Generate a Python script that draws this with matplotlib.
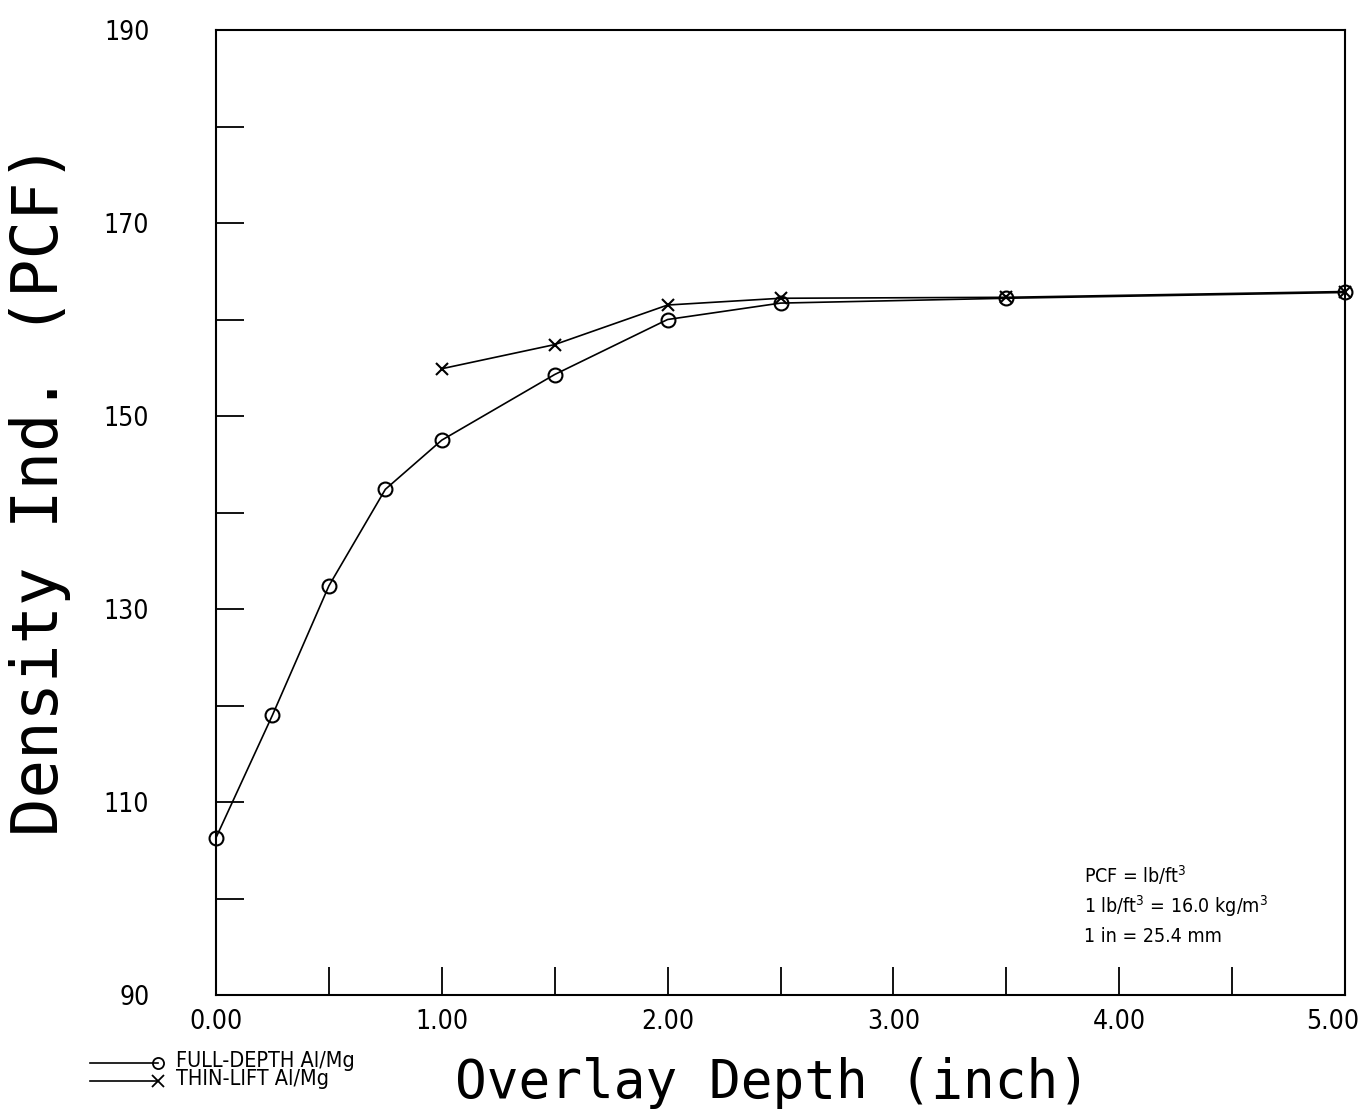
"""
Density indicator vs overlay depth, full-depth and thin-lift Al/Mg
"""
import matplotlib
matplotlib.use("Agg")
import matplotlib.pyplot as plt
import matplotlib.transforms as mtransforms
from matplotlib.lines import Line2D

# data
full_depth_x = [0.0, 0.25, 0.5, 0.75, 1.0, 1.5, 2.0, 2.5, 3.5, 5.0]
full_depth_y = [106.3, 119.0, 132.4, 142.4, 147.5, 154.3, 160.0, 161.7, 162.2, 162.8]
thin_lift_x = [1.0, 1.5, 2.0, 2.5, 3.5, 5.0]
thin_lift_y = [154.9, 157.4, 161.5, 162.2, 162.3, 162.9]

x_ticks = [0, 1, 2, 3, 4, 5]
y_ticks = [90, 110, 130, 150, 170, 190]

plt.rcParams['font.family'] = ['DejaVu Sans']
plt.rcParams['font.stretch'] = 'condensed'

fig = plt.figure(figsize=(13.65, 11.18), dpi=100)
ax = fig.add_axes([216 / 1365, 1 - 995 / 1118, (1345 - 216) / 1365, (995 - 30) / 1118])

ax.plot(full_depth_x, full_depth_y, color="black", lw=1.2,
        marker="o", ms=10, mfc="none", mew=1.5, clip_on=False)
ax.plot(thin_lift_x, thin_lift_y, color="black", lw=1.2,
        marker="x", ms=9, mew=1.5, clip_on=False)

ax.set_xlim(0, 5)
ax.set_ylim(90, 190)
ax.set_xticks([i * 0.5 for i in range(11)], minor=True)
ax.set_xticks(x_ticks)
ax.set_xticklabels([f"{v:.2f}" for v in x_ticks])
ax.set_yticks(range(90, 191, 10), minor=True)
ax.set_yticks(y_ticks)
ax.set_yticklabels([str(v) for v in y_ticks])

ax.tick_params(which="both", direction="in", length=20, width=1.3,
               top=False, right=False)
ax.tick_params(axis="x", which="major", pad=10, labelsize=19)
ax.tick_params(axis="y", which="major", pad=48, labelsize=19)
for s in ax.spines.values():
    s.set_linewidth(1.5)

# pull the last x label inside the figure
last = ax.get_xticklabels()[-1]
last.set_transform(last.get_transform() +
                   mtransforms.ScaledTranslation(-0.12, 0, fig.dpi_scale_trans))

# axis titles
fig.text(455 / 1365, 1 - 1083 / 1118, "Overlay Depth (inch)",
         family="DejaVu Sans Mono", fontsize=38,
         va="center", ha="left")
fig.text(40 / 1365, 1 - 490 / 1118, "Density Ind. (PCF)",
         family="DejaVu Sans Mono", fontsize=46,
         rotation=90, va="center", ha="center")

# unit notes
notes = ["PCF = lb/ft$^3$", "1 lb/ft$^3$ = 16.0 kg/m$^3$", "1 in = 25.4 mm"]
for y_px, note in zip([875, 906, 937], notes):
    fig.text(1084 / 1365, 1 - y_px / 1118, note, fontsize=14, va="center")

# legend, lines with marker at end
for y_px, mk, label in [(1063, "o", "FULL-DEPTH Al/Mg"),
                        (1081, "x", "THIN-LIFT Al/Mg")]:
    yf = 1 - y_px / 1118
    fig.add_artist(Line2D([90 / 1365, 158 / 1365], [yf, yf], color="black",
                          lw=1.2, marker=mk, markevery=[1], ms=8,
                          mfc="none", mew=1.3))
    fig.text(176 / 1365, yf + 0.002, label, fontsize=15.5, va="center")

fig.savefig("out.png", dpi=100)
